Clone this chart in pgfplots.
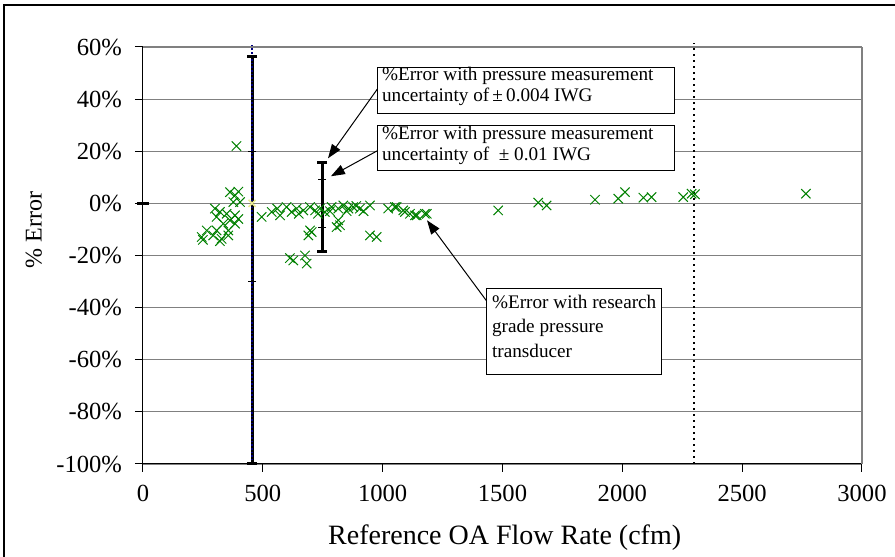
\documentclass[border=0pt]{standalone}
\usepackage{pgfplots}
\pgfplotsset{compat=1.18}
\usepackage{fontspec}
\setmainfont{Liberation Serif}
\usetikzlibrary{arrows.meta}
\definecolor{ptgreen}{RGB}{0,128,0}
\definecolor{gridgray}{RGB}{128,128,128}
\definecolor{navyblue}{RGB}{0,0,128}
\definecolor{paleyellow}{RGB}{235,235,150}

\pgfplotstableread{
cfm pct
390 22
363 4.3
384 3.1
377 0.5
405 0.5
398 4.5
398 -6
300 -2
321 -3.3
349 -4
384 -4.6
307 -5.2
363 -6.5
335 -7.8
384 -7.8
266 -10.4
307 -10.4
356 -10.4
245 -12.9
293 -12.3
328 -13.6
356 -12.3
250 -14
321 -14.5
495 -5.2
537 -3.3
560 -2
572 -4.6
599 -1.4
620 -3.3
641 -2
650 -4
669 -2.7
697 -1.4
718 -2.7
730 -4
738 -2
759 -3.3
780 -3
787 -1.4
815 -2
836 -0.8
850 -3
857 -2
877 -1.4
890 -1
905 -2
920 -3
947 -0.8
1023 -2
1051 -1.4
1058 -1.4
1086 -2.7
1093 -3.3
1114 -4
1135 -4.6
1142 -4.6
1176 -4
1184 -4
697 -10.4
690 -12.3
704 -11
815 -6.5
822 -8.4
808 -9.1
947 -12.3
975 -12.9
613 -21
627 -21.9
676 -20
683 -23.1
1482 -2.7
1649 0.3
1684 -0.8
1886 1.4
1983 1.8
2011 4.3
2088 2.2
2122 2.4
2254 2.4
2289 3.7
2303 3.5
2766 3.7
}\researchdata

\begin{document}
\begin{tikzpicture}[x=1pt,y=1pt]
\useasboundingbox (0,0) rectangle (447.5,278.5);
\draw[black, line width=0.6pt] (2,-2) -- (2,276) -- (452,276);
\begin{axis}[
  at={(71.5pt,46.5pt)}, anchor=south west,
  scale only axis, width=359.5pt, height=208.5pt,
  xmin=0, xmax=3000, ymin=-100, ymax=60,
  xtick={0,500,...,3000}, ytick={-100,-80,...,60},
  axis lines=left, axis line style={-, black, line width=0.5pt},
  ymajorgrids, grid style={gridgray, line width=0.6pt},
  tick align=outside, major tick length=4pt, tick style={black, line width=0.5pt},
  /pgf/number format/assume math mode=true,
  /pgf/number format/1000 sep={},
  yticklabel={\pgfmathprintnumber{\tick}\%},
  ticklabel style={font=\fontsize{12.3}{15}\selectfont},
  xticklabel style={yshift=-3pt},
  yticklabel style={xshift=-3pt},
  xlabel={Reference OA Flow Rate (cfm)}, ylabel={\% Error},
  xlabel style={font=\fontsize{14}{16}\selectfont, at={(axis description cs:0.503,-0.194)}, anchor=base},
  ylabel style={font=\fontsize{12}{14}\selectfont, at={(axis description cs:-0.152,0.561)}, anchor=center},
  clip=false,
]
\draw[gridgray, line width=0.6pt] (axis cs:3000,-100) -- (axis cs:3000,60);
\addplot[only marks, mark=x, mark size=3.3pt, ptgreen, mark options={line width=0.5pt}] table[x=cfm, y=pct] {\researchdata};
% large uncertainty bar
\addplot[black, line width=1.5pt] coordinates {(455,-100) (455,56.5)};
\addplot[only marks, mark=-, mark size=2.5pt, black, mark options={line width=1.5pt}] coordinates {(455,56.5) (455,-100)};
\addplot[only marks, mark=-, mark size=2pt, black, mark options={line width=0.5pt}] coordinates {(455,20) (455,-30)};
\addplot[navyblue, densely dotted, line width=0.8pt] coordinates {(455,-100) (455,61.5)};
\addplot[only marks, mark=x, mark size=2.5pt, paleyellow, mark options={line width=0.8pt}] coordinates {(455,0)};
% small uncertainty bar
\addplot[black, line width=1.5pt] coordinates {(747,-18.4) (747,15.7)};
\addplot[only marks, mark=-, mark size=2.5pt, black, mark options={line width=1.5pt}] coordinates {(747,15.7) (747,-18.4)};
\addplot[only marks, mark=-, mark size=2pt, black, mark options={line width=0.5pt}] coordinates {(747,9.2) (747,-9.2)};
% marker at origin
\addplot[only marks, mark=-, mark size=3pt, black, mark options={line width=1.2pt}] coordinates {(0,0)};
% dotted limit line
\addplot[black, dotted, line width=1pt] coordinates {(2300,-100) (2300,61.5)};
% annotations
\draw[-{Triangle[length=7pt,width=5pt]}, line width=0.5pt] (axis cs:989,45.3) -- (axis cs:772,17.3);
\draw[-{Triangle[length=7pt,width=5pt]}, line width=0.5pt] (axis cs:980,20.3) -- (axis cs:784,10.4);
\draw[-{Triangle[length=7pt,width=5pt]}, line width=0.5pt] (axis cs:1435,-37.6) -- (axis cs:1185,-6.5);
\draw[fill=white, line width=0.5pt] (axis cs:980.4,52.2) rectangle (axis cs:2219.4,34.5);
\draw[fill=white, line width=0.5pt] (axis cs:980.4,29.9) rectangle (axis cs:2219.4,12.7);
\draw[fill=white, line width=0.5pt] (axis cs:1435,-32.6) rectangle (axis cs:2165,-65.6);
\begin{scope}[every node/.style={anchor=base west, inner sep=0pt, font=\fontsize{9.6}{11}\selectfont}]
\node at (axis cs:996,47.2) {\%Error with pressure measurement};
\node at (axis cs:996,38.9) {uncertainty of\,±\,0.004 IWG};
\node at (axis cs:996,24.6) {\%Error with pressure measurement};
\node at (axis cs:996,16.3) {uncertainty of \ ± 0.01 IWG};
\node at (axis cs:1455,-40.3) {\%Error with research};
\node at (axis cs:1455,-49.4) {grade pressure};
\node at (axis cs:1455,-59.0) {transducer};
\end{scope}
\end{axis}
\end{tikzpicture}
\end{document}
